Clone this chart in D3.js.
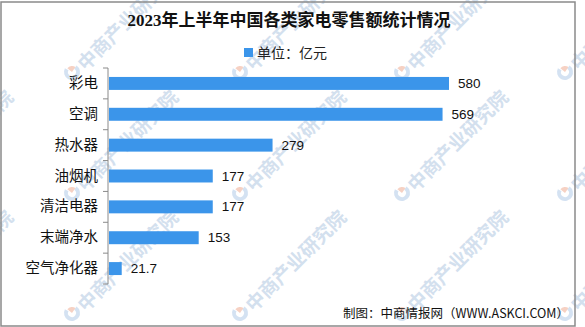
<!DOCTYPE html>
<html><head><meta charset="utf-8">
<script src="https://cdn.jsdelivr.net/npm/d3@7"></script>
<style>body{margin:0;background:#fff;}svg{display:block;}</style>
</head><body>
<script>
const categories = ["彩电","空调","热水器","油烟机","清洁电器","末端净水","空气净化器"];
const values = [580, 569, 279, 177, 177, 153, 21.7];
const valueLabels = ["580","569","279","177","177","153","21.7"];
const title = "2023年上半年中国各类家电零售额统计情况";
const legendLabel = "单位：亿元";
const footer = "制图：中商情报网（WWW.ASKCI.COM）";
const watermark = "中商产业研究院";

const W = 585, H = 327;
const svg = d3.select("body").append("svg").attr("width", W).attr("height", H);
svg.append("rect").attr("width", W).attr("height", H).attr("fill", "#fff");

// watermarks (grid as in the reference; partly cut by the edges like there)
const wmCols = [-93, 72, 240, 402, 565];
const wmRows = [72, 193, 313];
const wm = svg.append("g").attr("class", "watermark");
wmRows.forEach(r => wmCols.forEach(c => {
  const g = wm.append("g").attr("transform", `translate(${c},${r})`);
  g.append("path").attr("d", d3.arc()({innerRadius: 4, outerRadius: 8, startAngle: 0.6, endAngle: 5.2}))
    .attr("fill", "#c9dbef").attr("opacity", 0.8);
  g.append("path").attr("d", d3.arc()({innerRadius: 0, outerRadius: 6, startAngle: 5.4, endAngle: 6.9}))
    .attr("fill", "#f4c6b4").attr("opacity", 0.8);
  g.append("text").attr("transform", "translate(10,-4) rotate(-45)")
    .attr("font-family", "Noto Sans CJK SC").attr("font-size", 19).attr("font-weight", "bold")
    .attr("fill", "#d3e0ee").attr("dominant-baseline", "middle").text(watermark);
}));

// border
svg.append("rect").attr("x", 1).attr("y", 2).attr("width", 574).attr("height", 324)
  .attr("fill", "none").attr("stroke", "#8a8a8a").attr("stroke-width", 1.5);

// title
svg.append("text").attr("x", 289).attr("y", 26).attr("text-anchor", "middle")
  .attr("font-family", "Liberation Serif, Noto Sans CJK SC").attr("font-weight", "bold")
  .attr("font-size", 17).attr("fill", "#111").text(title);

// legend
const barColor = "#3b95ea";
svg.append("rect").attr("x", 244).attr("y", 48).attr("width", 9).attr("height", 9).attr("fill", barColor);
svg.append("text").attr("x", 257).attr("y", 57.5).attr("font-family", "Noto Sans CJK SC")
  .attr("font-size", 14).attr("fill", "#222").text(legendLabel);

// scales
const x = d3.scaleLinear().domain([0, 580]).range([109, 449]);
const y = d3.scaleBand().domain(categories).range([68, 284]).paddingInner(0.58).paddingOuter(0.29);

// bars
svg.append("g").selectAll("rect").data(values).join("rect")
  .attr("x", x(0)).attr("y", (d, i) => y(categories[i]))
  .attr("width", d => x(d) - x(0)).attr("height", y.bandwidth()).attr("fill", barColor);

// value labels
svg.append("g").selectAll("text").data(values).join("text")
  .attr("x", d => x(d) + 9).attr("y", (d, i) => y(categories[i]) + y.bandwidth() / 2)
  .attr("dominant-baseline", "central")
  .attr("font-family", "Liberation Sans, Arial").attr("font-size", 13.5).attr("fill", "#111")
  .text((d, i) => valueLabels[i]);

// axis
const axisG = svg.append("g").attr("transform", `translate(108,0)`)
  .call(d3.axisLeft(y).tickSize(0).tickPadding(10));
axisG.select(".domain").remove();
axisG.selectAll("text").attr("font-family", "Noto Sans CJK SC").attr("font-size", 14.5).attr("fill", "#111");
const step = y.step();
const bounds = d3.range(categories.length + 1).map(i => y.range()[0] + i * step);
axisG.append("line").attr("x1", 0).attr("x2", 0).attr("y1", bounds[0]).attr("y2", bounds[bounds.length - 1])
  .attr("stroke", "#8a8a8a").attr("stroke-width", 1);
axisG.selectAll(".bt").data(bounds).join("line").attr("class", "bt")
  .attr("x1", -5).attr("x2", 0).attr("y1", d => d).attr("y2", d => d)
  .attr("stroke", "#8a8a8a").attr("stroke-width", 1);

// footer
svg.append("text").attr("x", 569).attr("y", 318).attr("text-anchor", "end")
  .attr("font-family", "Noto Sans CJK SC").attr("font-size", 12.5).attr("fill", "#111").text(footer);
</script>
</body></html>
